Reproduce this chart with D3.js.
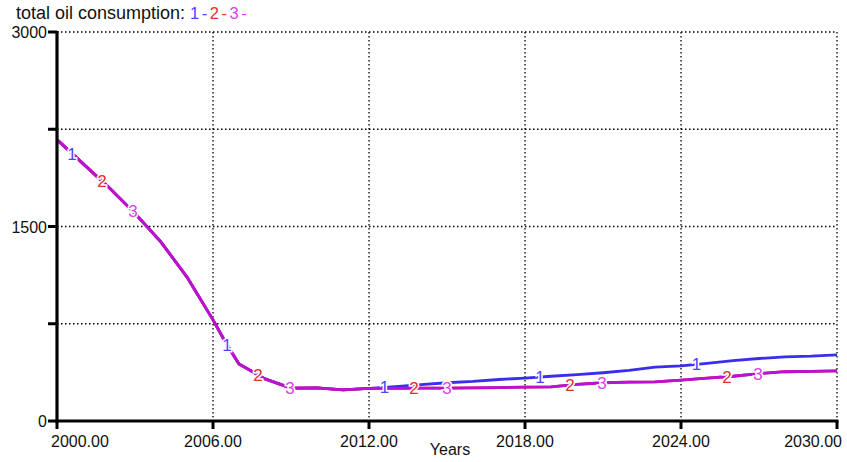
<!DOCTYPE html>
<html>
<head>
<meta charset="utf-8">
<script src="https://cdn.jsdelivr.net/npm/d3@7/dist/d3.min.js"></script>
<style>
  html, body { margin: 0; padding: 0; background: #fff; }
  svg { display: block; font-family: "Liberation Sans", Arial, sans-serif; }
</style>
</head>
<body>
<svg id="chart" width="847" height="462"></svg>
<script>
// Simulation output: total oil consumption, three runs
const years = [2000, 2001, 2002, 2003, 2004, 2005, 2006, 2006.5, 2007, 2008, 2009, 2010, 2011, 2012,
  2013, 2014, 2015, 2016, 2017, 2018, 2019, 2020, 2021, 2022, 2023, 2024, 2025, 2026, 2027, 2028, 2029, 2030];

const run1 = [2170, 1985, 1800, 1600, 1380, 1110, 780, 600, 440, 325, 254, 255, 240, 252,
  265, 280, 295, 305, 320, 331, 345, 358, 372, 390, 416, 425, 445, 465, 482, 495, 500, 510];
const run2 = [2170, 1985, 1800, 1600, 1380, 1110, 780, 600, 440, 325, 254, 255, 240, 252,
  252, 253, 254, 255, 258, 262, 263, 282, 295, 300, 302, 316, 330, 345, 365, 380, 383, 386];
const run3 = [2170, 1985, 1800, 1600, 1380, 1110, 780, 600, 440, 325, 254, 255, 240, 252,
  252, 253, 254, 255, 258, 262, 263, 282, 295, 300, 302, 316, 330, 345, 365, 380, 383, 386];

// where each run's number marker sits along its curve
const markerYears1 = [2000.58, 2006.54, 2012.6, 2018.58, 2024.6];
const markerYears2 = [2001.73, 2007.73, 2013.73, 2019.73, 2025.77];
const markerYears3 = [2002.92, 2008.96, 2015.0, 2020.96, 2026.96];

const xTicks = [2000, 2006, 2012, 2018, 2024, 2030];
const yGrid = [750, 1500, 2250, 3000];
const yLabels = [0, 1500, 3000];
const yMinor = [750, 2250];

const series = [
  { name: "1", values: run1, markers: markerYears1, line: "#3a2df0", text: "#4a46ff" },
  { name: "2", values: run2, markers: markerYears2, line: "#d8262e", text: "#e0302e" },
  { name: "3", values: run3, markers: markerYears3, line: "#bb10d8", text: "#e040f0" }
];

const svg = d3.select("#chart");
const plotL = 57, plotR = 837, plotT = 32, plotB = 421;

const x = d3.scaleLinear().domain([2000, 2030]).range([plotL, plotR]);
const y = d3.scaleLinear().domain([0, 3000]).range([plotB, plotT]);

// dotted grid
const grid = svg.append("g").attr("stroke", "#000").attr("stroke-width", 1.3)
  .attr("stroke-dasharray", "1.5,2.5");
grid.selectAll("line.h").data(yGrid).join("line")
  .attr("x1", plotL).attr("x2", plotR)
  .attr("y1", d => y(d)).attr("y2", d => y(d));
grid.selectAll("line.v").data(xTicks.slice(1)).join("line")
  .attr("x1", d => x(d)).attr("x2", d => x(d))
  .attr("y1", plotT).attr("y2", plotB);

// curves
const line = d3.line().x((d, i) => x(years[i])).y(d => y(d));
function valueAt(vals, yr) {
  const i = d3.bisectRight(years, yr) - 1;
  const j = Math.min(i + 1, years.length - 1);
  const t = j === i ? 0 : (yr - years[i]) / (years[j] - years[i]);
  return vals[i] + t * (vals[j] - vals[i]);
}

series.forEach(s => {
  svg.append("path").datum(s.values)
    .attr("d", line)
    .attr("fill", "none")
    .attr("stroke", s.line)
    .attr("stroke-width", 2.8)
    .attr("stroke-linejoin", "round");
});

series.forEach(s => {
  svg.append("g").selectAll("text").data(s.markers).join("text")
    .attr("x", d => x(d))
    .attr("y", d => y(valueAt(s.values, d)) + 6)
    .attr("text-anchor", "middle")
    .attr("font-size", 17)
    .attr("fill", s.text)
    .attr("stroke", "#fff")
    .attr("stroke-width", 3)
    .attr("paint-order", "stroke")
    .text(s.name);
});

// axes
const axes = svg.append("g").attr("stroke", "#000");
axes.append("line").attr("x1", plotL).attr("x2", plotL).attr("y1", plotT - 1).attr("y2", plotB + 1.5)
  .attr("stroke-width", 3.2);
axes.append("line").attr("x1", plotL - 1.5).attr("x2", plotR + 1.5).attr("y1", plotB).attr("y2", plotB)
  .attr("stroke-width", 3.2);
axes.selectAll("line.yt").data(yLabels.concat(yMinor)).join("line")
  .attr("x1", plotL - 9).attr("x2", plotL)
  .attr("y1", d => y(d)).attr("y2", d => y(d))
  .attr("stroke-width", 3);
axes.selectAll("line.xt").data(xTicks).join("line")
  .attr("x1", d => x(d)).attr("x2", d => x(d))
  .attr("y1", plotB).attr("y2", plotB + 8)
  .attr("stroke-width", 3);

svg.append("g").selectAll("text").data(yLabels).join("text")
  .attr("x", plotL - 10)
  .attr("y", d => y(d) + 6)
  .attr("text-anchor", "end")
  .attr("font-size", 16)
  .attr("fill", "#111")
  .text(d => d);

svg.append("g").selectAll("text").data(xTicks).join("text")
  .attr("x", (d, i) => i === 0 ? plotL - 6 : (i === xTicks.length - 1 ? plotR + 5 : x(d)))
  .attr("y", plotB + 26)
  .attr("text-anchor", (d, i) => i === 0 ? "start" : (i === xTicks.length - 1 ? "end" : "middle"))
  .attr("font-size", 16)
  .attr("fill", "#111")
  .text(d => d.toFixed(2));

svg.append("text").attr("x", 450).attr("y", 455).attr("text-anchor", "middle")
  .attr("font-size", 16).attr("fill", "#111").text("Years");

// title with run key
const title = svg.append("text").attr("x", 16).attr("y", 19).attr("fill", "#111");
title.append("tspan").attr("font-size", 18).text("total oil consumption: ");
series.forEach((s, i) => {
  title.append("tspan").attr("font-size", 16.5).attr("fill", s.text)
    .attr("dx", i === 0 ? 0 : 2.5)
    .text(s.name);
  title.append("tspan").attr("font-size", 16.5).attr("fill", s.text)
    .attr("dx", 2.5)
    .text("-");
});
</script>
</body>
</html>
